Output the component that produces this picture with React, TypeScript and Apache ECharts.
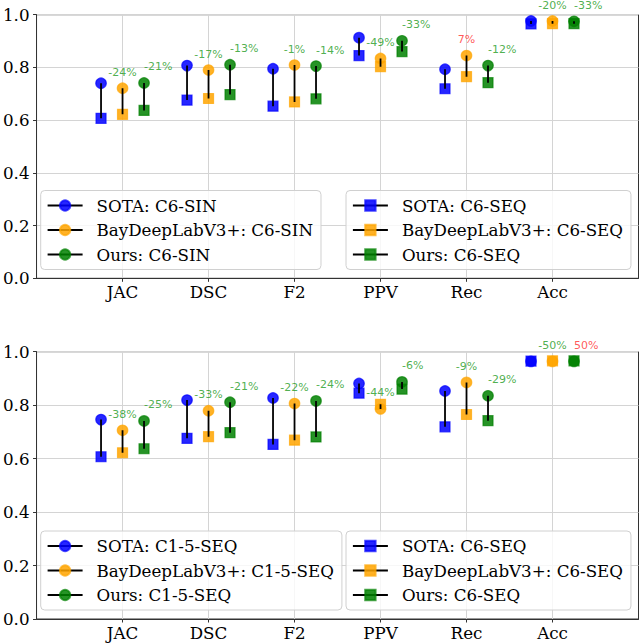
import React, { useEffect, useRef } from 'react';
import * as echarts from 'echarts';

const categories = ['JAC', 'DSC', 'F2', 'PPV', 'Rec', 'Acc'];
const methodNames = ['SOTA', 'BayDeepLabV3+', 'Ours'];
const methodColors = ['0,0,255', '255,165,0', '0,128,0'];

const topCircleLabel = 'C6-SIN';
const bottomCircleLabel = 'C1-5-SEQ';
const squareLabel = 'C6-SEQ';

// Top chart: circles (C6-SIN)
const sotaC6Sin = [0.740, 0.807, 0.795, 0.913, 0.793, 0.976];
const bayesC6Sin = [0.721, 0.790, 0.809, 0.834, 0.845, 0.976];
const oursC6Sin = [0.741, 0.810, 0.805, 0.901, 0.807, 0.975];

// Bottom chart: circles (C1-5-SEQ)
const sotaC15Seq = [0.746, 0.819, 0.827, 0.881, 0.853, 0.964];
const bayesC15Seq = [0.706, 0.779, 0.806, 0.786, 0.885, 0.964];
const oursC15Seq = [0.741, 0.811, 0.816, 0.887, 0.835, 0.964];

// Both charts: squares (C6-SEQ)
const sotaC6Seq = [0.607, 0.676, 0.653, 0.845, 0.719, 0.965];
const bayesC6Seq = [0.622, 0.682, 0.669, 0.803, 0.765, 0.966];
const oursC6Seq = [0.637, 0.697, 0.681, 0.860, 0.742, 0.966];

// Percentage annotations
const topBayesNotes = ['-24%', '-17%', '-1%', '-49%', '7%', '-20%'];
const topOursNotes = ['-21%', '-13%', '-14%', '-33%', '-12%', '-33%'];
const bottomBayesNotes = ['-38%', '-33%', '-22%', '-44%', '-9%', '-50%'];
const bottomOursNotes = ['-25%', '-21%', '-24%', '-6%', '-29%', '50%'];

const yTicks = [0, 0.2, 0.4, 0.6, 0.8, 1.0];

const FONT = 'DejaVu Serif';
const NOTE_FONT = 'DejaVu Sans';
const offsets = [-0.25, 0, 0.25];

function noteColor(t: string) {
  return t.trim().startsWith('-') ? '#229a22' : '#ff2e2e';
}

function buildSeries(
  g: number,
  circles: number[][],
  squares: number[][],
  circleLabel: string,
  bayesNotes: string[],
  oursNotes: string[]
) {
  const series: any[] = [];
  const circleNames: string[] = [];
  const squareNames: string[] = [];
  methodNames.forEach((m, k) => {
    const c = methodColors[k];
    const xs = categories.map((_, i) => i + 1 + offsets[k]);
    const cName = `${m}: ${circleLabel}`;
    const sName = `${m}: ${squareLabel}`;
    circleNames.push(cName);
    squareNames.push(sName);
    const common = {
      type: 'line',
      xAxisIndex: g,
      yAxisIndex: g,
      silent: true,
      connectNulls: false,
      showSymbol: true,
      lineStyle: { color: '#000', width: 1.8 },
      emphasis: { disabled: true },
      z: 2,
    };
    const itemStyle = { color: `rgba(${c},0.85)`, borderColor: `rgba(${c},0.7)`, borderWidth: 1.2 };
    series.push({
      ...common,
      name: cName,
      symbol: 'circle',
      symbolSize: 10.5,
      itemStyle,
      data: xs.flatMap((x, i) => [[x, circles[k][i]], [x, '-']]),
    });
    series.push({
      ...common,
      name: sName,
      symbol: 'rect',
      symbolSize: 10,
      itemStyle,
      data: xs.flatMap((x, i) => [[x, squares[k][i]], [x, '-']]),
    });
    series.push({
      type: 'line',
      xAxisIndex: g,
      yAxisIndex: g,
      silent: true,
      showSymbol: false,
      symbol: 'none',
      connectNulls: false,
      lineStyle: { color: '#000', width: 1.8 },
      emphasis: { disabled: true },
      z: 4,
      data: xs.flatMap((x, i) => [[x, circles[k][i]], [x, squares[k][i]], [x, '-']]),
    });
  });
  const noteSeries = (k: number, notes: string[], align: string) => ({
    type: 'scatter',
    xAxisIndex: g,
    yAxisIndex: g,
    silent: true,
    symbolSize: 1,
    itemStyle: { color: 'rgba(0,0,0,0)' },
    z: 5,
    label: {
      show: true,
      position: 'inside',
      offset: [0, -16],
      align,
      verticalAlign: 'middle',
      fontSize: 11,
      fontFamily: NOTE_FONT,
      formatter: '{b}',
    },
    data: notes.map((t, i) => ({
      name: t,
      value: [i + 1 + offsets[k], circles[k][i]],
      label: { color: noteColor(t) },
    })),
  });
  series.push(noteSeries(1, bayesNotes, 'center'));
  series.push(noteSeries(2, oursNotes, 'left'));
  return { series, circleNames, squareNames };
}

function legendBox(names: string[], left: number, top: number) {
  return {
    data: names,
    orient: 'vertical',
    left,
    top,
    selectedMode: false,
    itemWidth: 35,
    itemHeight: 13,
    itemGap: 6.5,
    padding: [6, 8, 6, 6],
    borderColor: '#d0d0d0',
    borderWidth: 1,
    borderRadius: 4,
    backgroundColor: 'rgba(255,255,255,0.8)',
    lineStyle: { color: '#000', width: 1.8 },
    textStyle: {
      fontFamily: FONT,
      fontSize: 16.7,
      color: '#000',
      lineHeight: 18,
      padding: [0, 0, 0, 9],
    },
  };
}

const cats = categories;

function xAxisFor(g: number) {
  return {
    type: 'value',
    gridIndex: g,
    min: 0,
    max: 7,
    interval: 1,
    axisLine: { show: true, lineStyle: { color: '#333', width: 1 } },
    axisTick: {
      show: true,
      length: 3.5,
      lineStyle: { color: '#333' },
      customValues: [1, 2, 3, 4, 5, 6],
    },
    axisLabel: {
      fontFamily: FONT,
      fontSize: 16.7,
      color: '#000',
      margin: 5,
      customValues: [1, 2, 3, 4, 5, 6],
      formatter: (v: number) => (v >= 1 && v <= 6 ? cats[v - 1] : ''),
    },
    splitLine: { show: true, lineStyle: { color: '#d4d4d4', width: 1 } },
  };
}

function yAxisFor(g: number) {
  return {
    type: 'value',
    gridIndex: g,
    min: 0,
    max: 1,
    interval: 0.2,
    axisLine: { show: true, lineStyle: { color: '#333', width: 1 } },
    axisTick: { show: true, length: 3.5, lineStyle: { color: '#333' } },
    axisLabel: {
      fontFamily: FONT,
      fontSize: 16.7,
      color: '#000',
      margin: 7,
      customValues: yTicks,
      formatter: (v: number) => v.toFixed(1),
    },
    splitLine: { show: true, lineStyle: { color: '#d4d4d4', width: 1 } },
  };
}

export default function App() {
  const ref = useRef<HTMLDivElement>(null);
  useEffect(() => {
    if (!ref.current) return;
    const chart = echarts.init(ref.current, null, { renderer: 'svg' });
    const top = buildSeries(
      0,
      [sotaC6Sin, bayesC6Sin, oursC6Sin],
      [sotaC6Seq, bayesC6Seq, oursC6Seq],
      topCircleLabel,
      topBayesNotes,
      topOursNotes
    );
    const bottom = buildSeries(
      1,
      [sotaC15Seq, bayesC15Seq, oursC15Seq],
      [sotaC6Seq, bayesC6Seq, oursC6Seq],
      bottomCircleLabel,
      bottomBayesNotes,
      bottomOursNotes
    );
    chart.setOption({
      animation: false,
      backgroundColor: '#fff',
      grid: [
        { left: 32, top: 14.7, width: 606.5, height: 263.6, show: true, borderColor: '#333', borderWidth: 1, backgroundColor: 'transparent' },
        { left: 32, top: 351.7, width: 606.5, height: 267.3, show: true, borderColor: '#333', borderWidth: 1, backgroundColor: 'transparent' },
      ],
      xAxis: [xAxisFor(0), xAxisFor(1)],
      yAxis: [yAxisFor(0), yAxisFor(1)],
      legend: [
        legendBox(top.circleNames, 40.7, 190.5),
        legendBox(top.squareNames, 346, 190.5),
        legendBox(bottom.circleNames, 40.7, 531),
        legendBox(bottom.squareNames, 346, 531),
      ],
      series: [...top.series, ...bottom.series],
    });
    return () => chart.dispose();
  }, []);
  return (
    <div
      ref={ref}
      style={{ position: 'fixed', left: 0, top: 0, width: 640, height: 643 }}
    />
  );
}
